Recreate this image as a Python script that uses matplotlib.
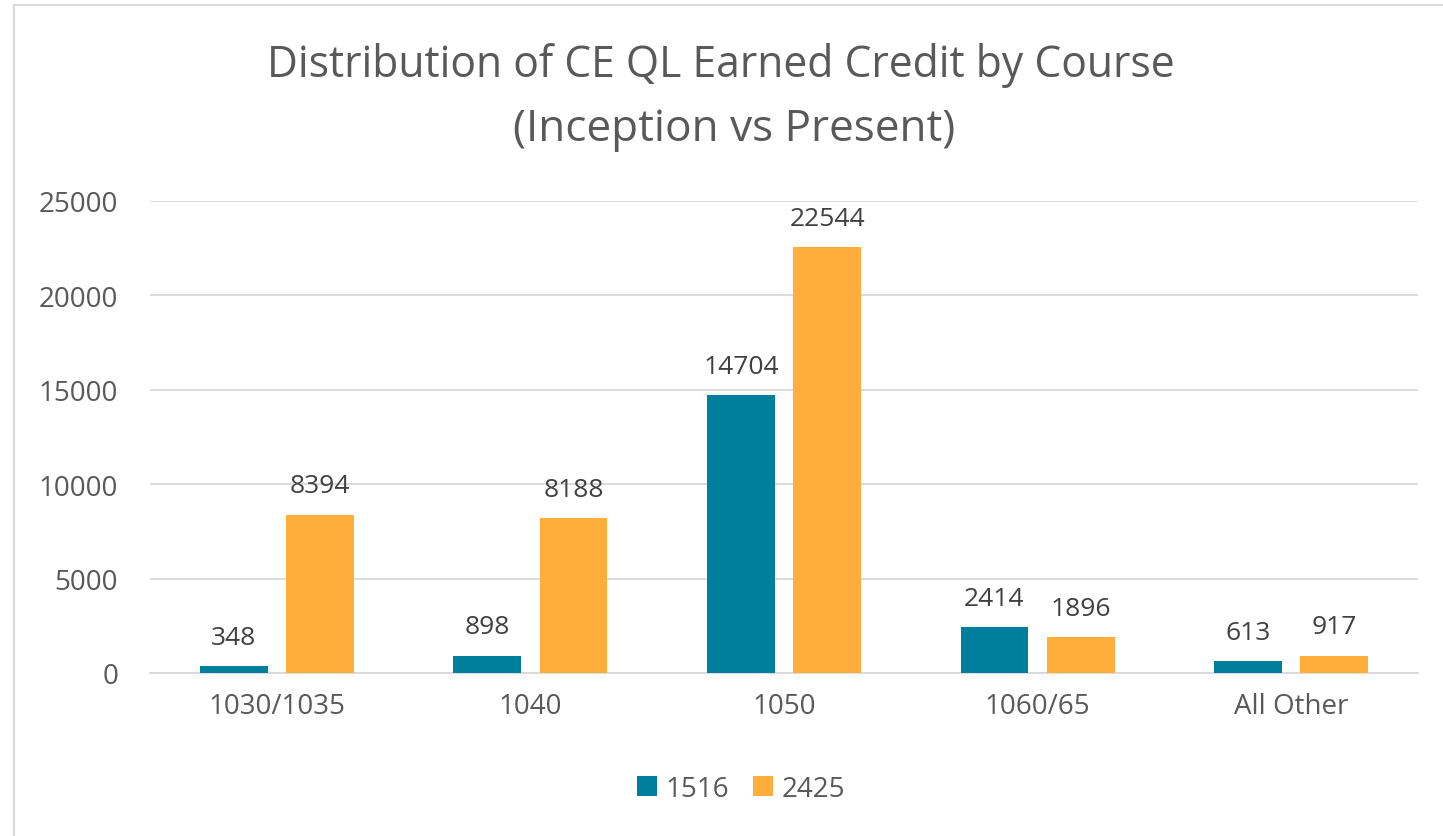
import matplotlib
matplotlib.use("Agg")
import matplotlib.pyplot as plt
import numpy as np

categories = ["1030/1035", "1040", "1050", "1060/65", "All Other"]
series_names = ["1516", "2425"]
values_1516 = [348, 898, 14704, 2414, 613]
values_2425 = [8394, 8188, 22544, 1896, 917]
yticks = [0, 5000, 10000, 15000, 20000, 25000]

teal = "#007F9D"
orange = "#FFAD3B"
txt = "#595959"
plt.rcParams['font.family'] = ['Open Sans', 'DejaVu Sans']

W, H = 1443, 837
fig = plt.figure(figsize=(W/100, H/100), dpi=100)
ax = fig.add_axes([150/W, (H-674)/H, (1418-150)/W, (674-202)/H])

x = np.arange(len(categories))
bw = 0.268
off = 0.17
b1 = ax.bar(x - off, values_1516, bw, color=teal, label=series_names[0], zorder=3)
b2 = ax.bar(x + off, values_2425, bw, color=orange, label=series_names[1], zorder=3)
for bars, vals in ((b1, values_1516), (b2, values_2425)):
    for r, v in zip(bars, vals):
        ax.annotate(f"{v}", (r.get_x() + r.get_width()/2, v), xytext=(0, 12),
                    textcoords="offset points", ha="center", va="bottom",
                    fontsize=19, color="#404040")

ax.set_xlim(-0.5, len(categories) - 0.5)
ax.set_ylim(0, 25000)
ax.set_yticks(yticks)
ax.set_yticklabels([str(t) for t in yticks])
ax.set_xticks(x)
ax.set_xticklabels(categories)
ax.tick_params(axis='both', length=0, labelsize=20, colors=txt)
ax.tick_params(axis='y', pad=23)
ax.tick_params(axis='x', pad=14)
ax.grid(axis='y', color="#D9D9D9", linewidth=1.3, zorder=0)
for s in ("top", "right", "left"):
    ax.spines[s].set_visible(False)
ax.spines["bottom"].set_color("#D9D9D9")
ax.spines["bottom"].set_linewidth(1.3)

fig.text(721/W, 1 - 65/H, "Distribution of CE QL Earned Credit by Course",
         ha="center", va="center", fontsize=30.7, color=txt)
fig.text(734/W, 1 - 130/H, "(Inception vs Present)",
         ha="center", va="center", fontsize=31.8, color=txt)

leg = fig.legend(handles=[b1, b2], labels=series_names, loc="center",
                 bbox_to_anchor=(741/W, 1 - 790/H), ncol=2, frameon=False,
                 fontsize=20, handlelength=0.72, handleheight=0.72,
                 handletextpad=0.3, columnspacing=0.85)
for t in leg.get_texts():
    t.set_color(txt)

fig.add_artist(plt.Line2D([14/W, 14/W], [0, 1 - 6/H], color="#D9D9D9", lw=1.5))
fig.add_artist(plt.Line2D([14/W, 1], [1 - 6/H, 1 - 6/H], color="#D9D9D9", lw=1.5))

fig.savefig("out.png", dpi=100)
